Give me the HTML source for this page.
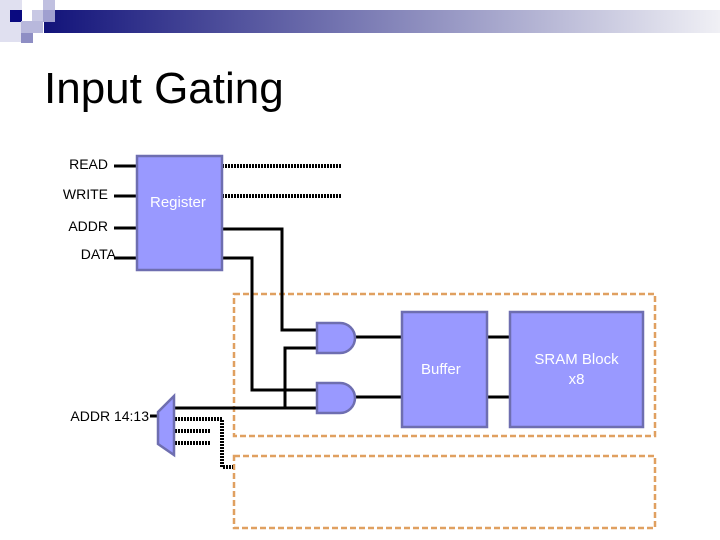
<!DOCTYPE html>
<html><head><style>
html,body{margin:0;padding:0;background:#fff;}
body{width:720px;height:540px;position:relative;overflow:hidden;font-family:"Liberation Sans",sans-serif;}
.t{position:absolute;font-size:14px;color:#000;}
</style></head><body>
<svg width="720" height="540" style="position:absolute;left:0;top:0">
<defs><linearGradient id="g" x1="0" x2="1"><stop offset="0" stop-color="#12137a"/><stop offset="1" stop-color="#f0f0f5"/></linearGradient></defs>
<rect x="44" y="10" width="676" height="23" fill="url(#g)"/>
<rect x="0" y="0" width="22" height="42" fill="#e0e0f0"/>
<rect x="10" y="10" width="12" height="12" fill="#0a0a80"/>
<rect x="32" y="10" width="12" height="12" fill="#c8c8e4"/>
<rect x="43" y="0" width="12" height="10" fill="#c0c0e0"/>
<rect x="43" y="10" width="12" height="12" fill="#a0a0d0"/>
<rect x="21" y="21" width="22" height="12" fill="#b8b8dc"/>
<rect x="21" y="33" width="12" height="10" fill="#8e8ec4"/>
<g fill="none" stroke="#e0a060" stroke-width="2.5" stroke-dasharray="6,3">
<rect x="234" y="294" width="421" height="142"/>
<rect x="234" y="456" width="421" height="72"/>
</g>
<g stroke="#000" stroke-width="3" fill="none">
<path d="M114 166H137M114 196H137M114 228H137M114 258H137"/>
<path d="M222 229H282V330H318"/>
<path d="M222 258H252V390H318"/>
<path d="M175 408H318M285 408V348H318"/>
<path d="M355 337H402M355 397H402M487 337H510M487 397H510"/>
<path d="M150 416H158"/>
</g>
<g stroke="#000" stroke-width="4" fill="none" stroke-dasharray="2,1">
<path d="M222 166H342M222 196H342"/>
<path d="M175 419H222V467H233M175 431H210M175 443H210"/>
</g>
<g fill="#9999ff" stroke="#6e6eb0" stroke-width="2.5">
<rect x="137" y="156" width="85" height="114"/>
<rect x="402" y="312" width="85" height="115"/>
<rect x="510" y="312" width="133" height="115"/>
<path d="M317 323H340A15 15 0 0 1 340 353H317Z"/>
<path d="M317 383H340A15 15 0 0 1 340 413H317Z"/>
<path d="M174 396V455L158 444V412Z"/>
</g>
</svg>
<div style="position:absolute;left:44px;top:64px;font-size:44px;">Input Gating</div>
<div class="t" style="right:612px;top:156px">READ</div>
<div class="t" style="right:612px;top:186px">WRITE</div>
<div class="t" style="right:612px;top:218px">ADDR</div>
<div class="t" style="right:604px;top:246px">DATA</div>
<div class="t" style="right:571px;top:408px">ADDR 14:13</div>
<div class="t" style="left:150px;top:194px;color:#fff;font-size:15px">Register</div>
<div class="t" style="left:421px;top:361px;color:#fff;font-size:15px">Buffer</div>
<div class="t" style="left:510px;width:133px;text-align:center;top:350px;color:#fff;line-height:20px;font-size:15px">SRAM Block<br>x8</div>
</body></html>
